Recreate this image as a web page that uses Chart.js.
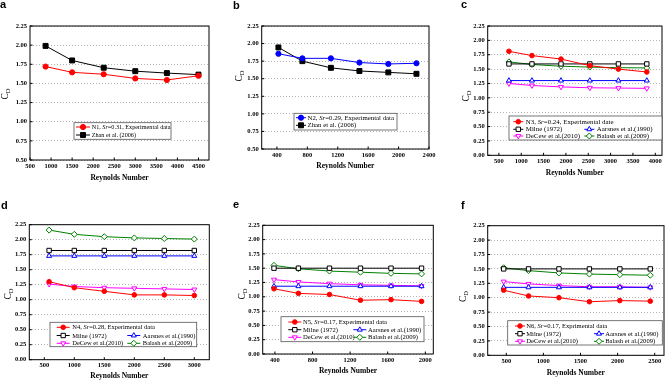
<!DOCTYPE html>
<html>
<head>
<meta charset="utf-8">
<script src="https://cdn.jsdelivr.net/npm/chart.js@4.4.1/dist/chart.umd.min.js"></script>
<style>
  body { margin: 0; background: #fff; }
  #wrap { position: relative; width: 669px; height: 381px; overflow: hidden; background: #fff; }
  #wrap canvas { position: absolute; }
  .tag { position: absolute; font: bold 11px "Liberation Sans", Arial, sans-serif; line-height: 11px; color: #000; }
</style>
</head>
<body>
<div id="wrap">
  <canvas id="pa" width="222" height="190" style="left:0;top:0"></canvas>
  <canvas id="pb" width="222" height="190" style="left:222px;top:0"></canvas>
  <canvas id="pc" width="225" height="190" style="left:444px;top:0"></canvas>
  <canvas id="pd" width="222" height="191" style="left:0;top:190px"></canvas>
  <canvas id="pe" width="222" height="191" style="left:222px;top:190px"></canvas>
  <canvas id="pf" width="225" height="191" style="left:444px;top:190px"></canvas>
  <div class="tag" style="left:0;top:-1px">a</div>
  <div class="tag" style="left:233px;top:0">b</div>
  <div class="tag" style="left:461px;top:-1px">c</div>
  <div class="tag" style="left:1px;top:200px">d</div>
  <div class="tag" style="left:233px;top:199px">e</div>
  <div class="tag" style="left:461px;top:200px">f</div>
</div>
<script>
// ---- data ----
// panel a
const reA = [870, 1500, 2250, 3000, 3750, 4500];
const cdA_N1 = [1.72, 1.645, 1.62, 1.565, 1.545, 1.60];
const cdA_Zhan = [1.99, 1.80, 1.705, 1.66, 1.635, 1.615];
const xTicksA = [500, 1000, 1500, 2000, 2500, 3000, 3500, 4000, 4500];

// panel b
const reB = [420, 735, 1110, 1485, 1865, 2235];
const cdB_N2 = [1.855, 1.79, 1.79, 1.73, 1.71, 1.72];
const cdB_Zhan = [1.945, 1.75, 1.655, 1.61, 1.59, 1.57];
const xTicksB = [400, 800, 1200, 1600, 2000, 2400];

// panel c
const reC = [725, 1240, 1890, 2535, 3175, 3810];
const cdC_N3 = [1.81, 1.735, 1.675, 1.56, 1.50, 1.45];
const cdC_Milne = [1.59, 1.59, 1.59, 1.59, 1.59, 1.59];
const cdC_Aarsnes = [1.30, 1.30, 1.30, 1.30, 1.30, 1.30];
const cdC_DeCew = [1.25, 1.215, 1.19, 1.175, 1.17, 1.165];
const cdC_Balash = [1.625, 1.58, 1.55, 1.535, 1.525, 1.52];
const xTicksC = [500, 1000, 1500, 2000, 2500, 3000, 3500, 4000];

// panel d
const reD = [580, 1000, 1500, 2000, 2500, 3000];
const cdD_N4 = [1.30, 1.20, 1.14, 1.08, 1.08, 1.07];
const cdD_Milne = [1.82, 1.82, 1.82, 1.82, 1.82, 1.82];
const cdD_Aarsnes = [1.73, 1.73, 1.73, 1.73, 1.73, 1.73];
const cdD_DeCew = [1.26, 1.22, 1.20, 1.19, 1.18, 1.17];
const cdD_Balash = [2.16, 2.09, 2.05, 2.03, 2.02, 2.01];
const xTicksD = [500, 1000, 1500, 2000, 2500, 3000];

// panel e
const reE = [390, 650, 980, 1310, 1635, 1960];
const cdE_N5 = [1.14, 1.06, 1.04, 0.94, 0.95, 0.92];
const cdE_Milne = [1.50, 1.50, 1.50, 1.50, 1.50, 1.50];
const cdE_Aarsnes = [1.185, 1.185, 1.185, 1.185, 1.185, 1.185];
const cdE_DeCew = [1.30, 1.26, 1.23, 1.21, 1.20, 1.19];
const cdE_Balash = [1.55, 1.49, 1.45, 1.43, 1.41, 1.40];
const xTicksE = [400, 800, 1200, 1600, 2000];

// panel f
const reF = [465, 800, 1210, 1620, 2030, 2440];
const cdF_N6 = [1.13, 1.03, 1.00, 0.93, 0.95, 0.94];
const cdF_Milne = [1.50, 1.50, 1.50, 1.50, 1.50, 1.50];
const cdF_Aarsnes = [1.18, 1.18, 1.18, 1.18, 1.18, 1.18];
const cdF_DeCew = [1.28, 1.24, 1.21, 1.19, 1.19, 1.18];
const cdF_Balash = [1.52, 1.47, 1.43, 1.41, 1.40, 1.39];
const xTicksF = [500, 1000, 1500, 2000, 2500];

// y tick values
const yTicksHigh = [0.5, 0.75, 1.0, 1.25, 1.5, 1.75, 2.0, 2.25];
const yTicksFull = [0, 0.25, 0.5, 0.75, 1.0, 1.25, 1.5, 1.75, 2.0, 2.25];

// ---- styling ----
const RED = '#ff0000', BLUE = '#0000ff', BLACK = '#000000', MAGENTA = '#ff00ff', GREEN = '#008000';
const SERIF = '"Liberation Serif", "Times New Roman", serif';
const tickFont = { family: SERIF, size: 6.5, weight: 'bold' };
const titleFont = { family: SERIF, size: 7.5, weight: 'bold', lineHeight: 1.2 };

function series(label, re, cd, color, style, open, radius, rotation) {
  return {
    label: label,
    data: re.map((x, i) => ({ x: x, y: cd[i] })),
    borderColor: color,
    backgroundColor: open ? '#ffffff' : color,
    borderWidth: 1,
    pointStyle: style,
    pointRadius: radius,
    pointRotation: rotation || 0,
    pointBorderColor: color,
    pointBackgroundColor: open ? '#ffffff' : color,
    pointBorderWidth: 1,
    tension: 0
  };
}

// the five series used in panels c-f
function fiveSeries(nLabel, re, n, milne, aars, decew, balash) {
  return [
    series(nLabel, re, n, RED, 'circle', false, 2.3),
    series('Milne (1972)', re, milne, BLACK, 'rect', true, 3.1),
    series('Aarsnes et al.(1990)', re, aars, BLUE, 'triangle', true, 2.9),
    series('DeCew et al.(2010)', re, decew, MAGENTA, 'triangle', true, 2.9, 180),
    series('Balash et al.(2009)', re, balash, GREEN, 'rectRot', true, 3)
  ];
}

// draws frame, inward ticks, C_D title and the boxed legend
const panelDeco = {
  id: 'panelDeco',
  afterDraw(chart, args, o) {
    const { ctx, chartArea: a, scales } = chart;
    ctx.save();
    ctx.strokeStyle = '#000';
    ctx.lineWidth = 1;
    ctx.beginPath();
    scales.x.ticks.forEach(t => {
      const px = scales.x.getPixelForValue(t.value);
      ctx.moveTo(px, a.bottom);
      ctx.lineTo(px, a.bottom - 2.5);
    });
    scales.y.ticks.forEach(t => {
      const py = scales.y.getPixelForValue(t.value);
      ctx.moveTo(a.left, py);
      ctx.lineTo(a.left + 2.5, py);
    });
    ctx.stroke();
    ctx.strokeRect(a.left, a.top, a.right - a.left, a.bottom - a.top);

    // y title with subscript
    ctx.save();
    ctx.translate(o.yTitle.x, o.yTitle.y);
    ctx.rotate(-Math.PI / 2);
    ctx.fillStyle = '#000';
    ctx.textBaseline = 'middle';
    ctx.font = '9.5px ' + SERIF;
    const wC = ctx.measureText('C').width;
    ctx.font = '6.5px ' + SERIF;
    const wD = ctx.measureText('D').width;
    const x0 = -(wC + wD) / 2;
    ctx.font = '9.5px ' + SERIF;
    ctx.fillText('C', x0, 0);
    ctx.font = '6.5px ' + SERIF;
    ctx.fillText('D', x0 + wC, 2.8);
    ctx.restore();

    // legend box
    const L = o.legend;
    ctx.fillStyle = '#fff';
    ctx.fillRect(L.x, L.y, L.w, L.h);
    ctx.strokeStyle = '#555';
    ctx.lineWidth = 0.8;
    ctx.strokeRect(L.x, L.y, L.w, L.h);
    L.items.forEach(it => {
      const ds = chart.data.datasets[it.i];
      const lx = L.x + it.x, ly = L.y + it.y;
      ctx.strokeStyle = ds.borderColor;
      ctx.lineWidth = 1;
      ctx.beginPath();
      ctx.moveTo(lx, ly);
      ctx.lineTo(lx + L.line, ly);
      ctx.stroke();
      ctx.fillStyle = ds.pointBackgroundColor;
      Chart.helpers.drawPoint(ctx, {
        pointStyle: ds.pointStyle, radius: ds.pointRadius,
        rotation: ds.pointRotation, borderWidth: 1
      }, lx + L.line / 2, ly);
      // label, *...* parts in italics
      let tx = lx + L.line + L.gap;
      ctx.fillStyle = '#000';
      ctx.textBaseline = 'middle';
      ds.label.split('*').forEach((part, k) => {
        ctx.font = (k % 2 ? 'italic ' : '') + L.font + 'px ' + SERIF;
        ctx.fillText(part, tx, ly + 0.3);
        tx += ctx.measureText(part).width;
      });
    });
    ctx.restore();
  }
};

function makeChart(id, cfg) {
  return new Chart(document.getElementById(id), {
    type: 'line',
    data: { datasets: cfg.datasets },
    options: {
      responsive: false,
      animation: false,
      devicePixelRatio: 1,
      layout: { padding: { top: cfg.top, right: cfg.right, left: 0, bottom: 0 } },
      plugins: {
        legend: { display: false },
        tooltip: { enabled: false },
        panelDeco: { yTitle: cfg.yTitle, legend: cfg.legend }
      },
      scales: {
        x: {
          type: 'linear',
          min: cfg.xMin,
          max: cfg.xMax,
          afterBuildTicks: s => { s.ticks = cfg.xTicks.map(v => ({ value: v })); },
          afterFit: s => { s.height = cfg.xHeight; },
          grid: { display: false, drawTicks: false },
          border: { display: false },
          ticks: { padding: 2, font: tickFont, color: '#000', maxRotation: 0, autoSkip: false, callback: v => String(v) },
          title: { display: true, text: 'Reynolds Number', font: titleFont, color: '#000', padding: { top: 0, bottom: cfg.titlePad } }
        },
        y: {
          type: 'linear',
          min: cfg.yMin,
          max: 2.25,
          afterBuildTicks: s => { s.ticks = cfg.yTicks.map(v => ({ value: v })); },
          afterFit: s => { s.width = cfg.yWidth; },
          grid: { color: '#b5b5b5', lineWidth: 1, drawTicks: false },
          border: { display: false, dash: [1, 2] },
          ticks: { padding: 3, font: tickFont, color: '#000', callback: v => v.toFixed(2) }
        }
      }
    },
    plugins: [panelDeco]
  });
}

// panel a
makeChart('pa', {
  datasets: [
    series('N1, *Sr*=0.31, Experimental data', reA, cdA_N1, RED, 'circle', false, 2.6),
    series('Zhan et al. (2006)', reA, cdA_Zhan, BLACK, 'rect', false, 3.5)
  ],
  xMin: 500, xMax: 4750, xTicks: xTicksA, yMin: 0.5, yTicks: yTicksHigh,
  yWidth: 30, top: 26, right: 13, xHeight: 30, titlePad: 7.5,
  yTitle: { x: 5.5, y: 94 },
  legend: { x: 74, y: 122.7, w: 97, h: 16.6, font: 6.2, line: 14, gap: 1.7,
    items: [{ i: 0, x: 2, y: 4.3 }, { i: 1, x: 2, y: 12.3 }] }
});

// panel b
makeChart('pb', {
  datasets: [
    series('N2, *Sr*=0.29, Experimental data', reB, cdB_N2, BLUE, 'circle', false, 2.6),
    series('Zhan et al. (2006)', reB, cdB_Zhan, BLACK, 'rect', false, 3.5)
  ],
  xMin: 200, xMax: 2400, xTicks: xTicksB, yMin: 0.5, yTicks: yTicksHigh,
  yWidth: 39.7, top: 26, right: 15, xHeight: 41, titlePad: 19.8,
  yTitle: { x: 17, y: 76 },
  legend: { x: 72, y: 113.3, w: 103, h: 16.7, font: 6.8, line: 10, gap: 1.5,
    items: [{ i: 0, x: 2, y: 4.4 }, { i: 1, x: 2, y: 12 }] }
});

// panel c
makeChart('pc', {
  datasets: fiveSeries('N3, *Sr*=0.24, Experimental date', reC, cdC_N3, cdC_Milne, cdC_Aarsnes, cdC_DeCew, cdC_Balash),
  xMin: 250, xMax: 4150, xTicks: xTicksC, yMin: 0, yTicks: yTicksFull,
  yWidth: 43.7, top: 26, right: 7, xHeight: 34.7, titlePad: 12.8,
  yTitle: { x: 22, y: 96 },
  legend: { x: 65, y: 116, w: 153, h: 24, font: 6.9, line: 10, gap: 2.5,
    items: [{ i: 0, x: 4.3, y: 5.7 }, { i: 1, x: 4.3, y: 13.3 }, { i: 2, x: 75.3, y: 13.3 },
            { i: 3, x: 4.3, y: 20 }, { i: 4, x: 75.3, y: 20 }] }
});

// panel d
makeChart('pd', {
  datasets: fiveSeries('N4, *Sr*=0.28, Experimental data', reD, cdD_N4, cdD_Milne, cdD_Aarsnes, cdD_DeCew, cdD_Balash),
  xMin: 250, xMax: 3250, xTicks: xTicksD, yMin: 0, yTicks: yTicksFull,
  yWidth: 29.3, top: 34.7, right: 12.7, xHeight: 21.3, titlePad: 0.5,
  yTitle: { x: 8.5, y: 104 },
  legend: { x: 50, y: 132.3, w: 146.7, h: 24.4, font: 6.5, line: 13, gap: 2.5,
    items: [{ i: 0, x: 6.7, y: 5 }, { i: 1, x: 6.7, y: 13.2 }, { i: 2, x: 77.3, y: 13.2 },
            { i: 3, x: 6.7, y: 21 }, { i: 4, x: 77.3, y: 21 }] }
});

// panel e
makeChart('pe', {
  datasets: fiveSeries('N5, *Sr*=0.17, Experimental data', reE, cdE_N5, cdE_Milne, cdE_Aarsnes, cdE_DeCew, cdE_Balash),
  xMin: 270, xMax: 2085, xTicks: xTicksE, yMin: 0, yTicks: yTicksFull,
  yWidth: 40.7, top: 35.3, right: 10.7, xHeight: 27, titlePad: 5.5,
  yTitle: { x: 20, y: 104 },
  legend: { x: 59, y: 126.7, w: 143, h: 25, font: 6.6, line: 13, gap: 1.7,
    items: [{ i: 0, x: 7.3, y: 5.3 }, { i: 1, x: 7.3, y: 13 }, { i: 2, x: 72.3, y: 13 },
            { i: 3, x: 7.3, y: 20.6 }, { i: 4, x: 72.3, y: 20.6 }] }
});

// panel f
makeChart('pf', {
  datasets: fiveSeries('N6, *Sr*=0.17, Exprimental data', reF, cdF_N6, cdF_Milne, cdF_Aarsnes, cdF_DeCew, cdF_Balash),
  xMin: 250, xMax: 2625, xTicks: xTicksF, yMin: 0, yTicks: yTicksFull,
  yWidth: 43.7, top: 35.7, right: 3.7, xHeight: 25.7, titlePad: 3.8,
  yTitle: { x: 19.5, y: 106.5 },
  legend: { x: 63.7, y: 130.7, w: 154.6, h: 24.3, font: 6.6, line: 10, gap: 1.2,
    items: [{ i: 0, x: 7.3, y: 5.3 }, { i: 1, x: 7.3, y: 13 }, { i: 2, x: 86.3, y: 13 },
            { i: 3, x: 7.3, y: 20.6 }, { i: 4, x: 86.3, y: 20.6 }] }
});
</script>
</body>
</html>
